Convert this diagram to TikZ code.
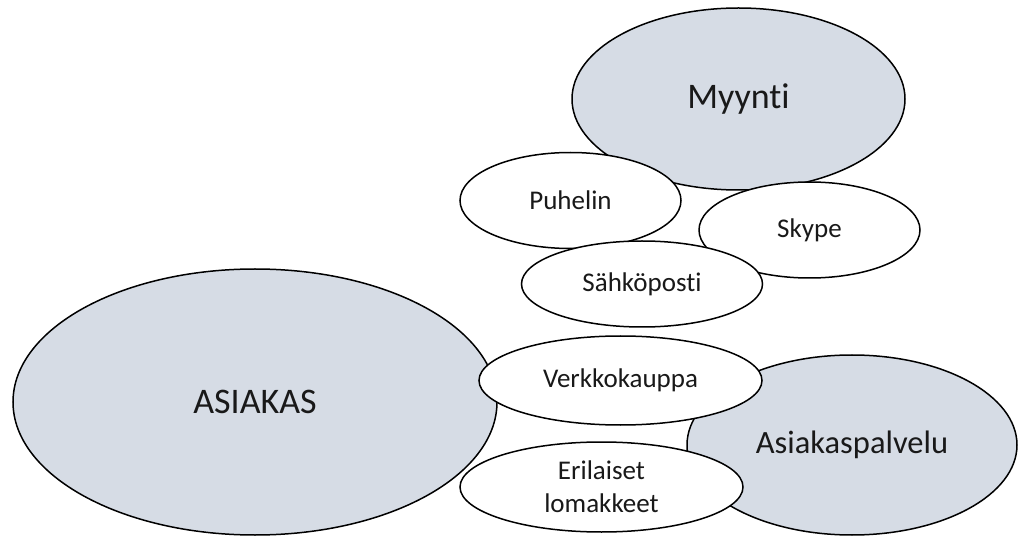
\documentclass[tikz,border=0pt]{standalone}
\usepackage{fontspec}
\setmainfont{Carlito}[Ligatures=NoCommon]
\usetikzlibrary{shapes.geometric}
\definecolor{bluegray}{HTML}{D6DCE5}
\tikzset{
  blob/.style={ellipse, draw=black, line width=1.5pt, inner sep=0pt, outer sep=0pt, text=black!90},
  bigblob/.style={blob, fill=bluegray},
  smallblob/.style={blob, fill=white, font=\fontsize{27}{33}\selectfont, align=center},
}
\begin{document}
\begin{tikzpicture}[x=1pt,y=-1pt]
  \useasboundingbox (0,0) rectangle (1018,537);
  \fill[white] (0,0) rectangle (1018,537);

  % main groups
  \node[bigblob, minimum width=333pt, minimum height=182pt, font=\fontsize{36}{43}\selectfont] (myynti) at (738.5,99) {Myynti};
  \node[bigblob, minimum width=484pt, minimum height=266pt, font=\fontsize{36}{43}\selectfont] (asiakas) at (255,402) {ASIAKAS};
  \node[bigblob, minimum width=330pt, minimum height=180pt, font=\fontsize{32.5}{39}\selectfont] (palvelu) at (852,445) {Asiakaspalvelu};

  % channels
  \node[smallblob, minimum width=221pt, minimum height=96pt] (puhelin) at (570.5,200.5) {Puhelin};
  \node[smallblob, minimum width=221pt, minimum height=96pt] (skype) at (809.5,230) {Skype};
  \node[smallblob, minimum width=241pt, minimum height=86pt] (sposti) at (642,284) {Sähköposti};
  \node[smallblob, minimum width=283pt, minimum height=89pt] (verkko) at (620.5,380.5) {Verkkokauppa};
  \node[smallblob, minimum width=283pt, minimum height=90pt] (lomake) at (601.5,487) {Erilaiset\\lomakkeet};
\end{tikzpicture}
\end{document}
